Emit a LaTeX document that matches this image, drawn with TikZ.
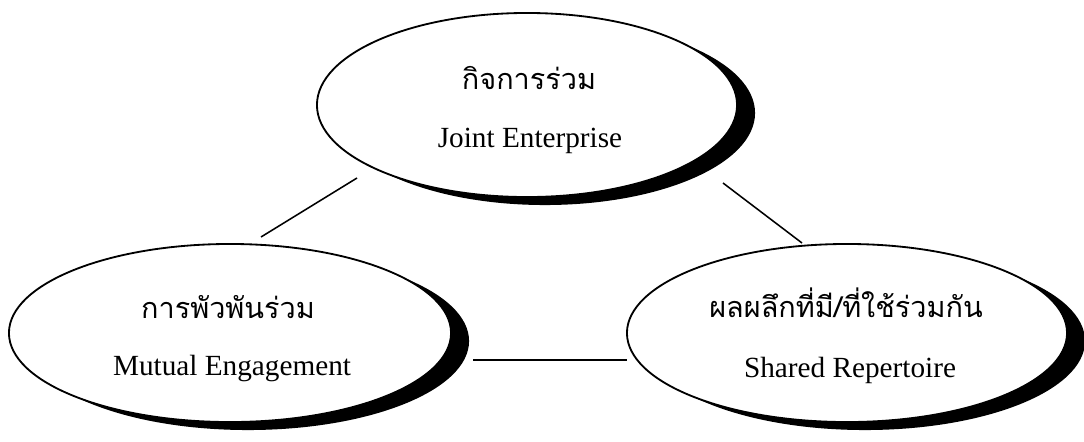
\documentclass[tikz,border=0pt]{standalone}
\usepackage{fontspec}
\setmainfont{Liberation Serif}
\newfontfamily\thaifont[Script=Thai]{Loma}
\usetikzlibrary{shapes.geometric,shadows}
\begin{document}
\begin{tikzpicture}[x=0.025cm,y=-0.025cm,
  bubble/.style={ellipse, draw=black, line width=1.3pt, fill=white, inner sep=0pt,
    drop shadow={shadow xshift=0.45cm, shadow yshift=-0.2cm, opacity=1, fill=black}},
  th/.style={font=\thaifont\fontsize{20.5}{22}\selectfont, anchor=base, inner sep=0pt},
  en/.style={font=\fontsize{20.8}{24}\selectfont, anchor=base, inner sep=0pt},
  link/.style={line width=1.1pt}]
\useasboundingbox (0,0) rectangle (1084,441);
\node[bubble, minimum width=10.5cm, minimum height=4.6cm] (top) at (527,105) {};
\node[bubble, minimum width=11.05cm, minimum height=4.45cm] (left) at (230,333) {};
\node[bubble, minimum width=11cm, minimum height=4.45cm] (right) at (847,333) {};
\node[th] (topth) at ([shift={(2,-16)}]top.center) {กิจการร่วม};
\node[en] (topen) at ([shift={(3,42)}]top.center) {Joint Enterprise};
\node[th] (leftth) at ([shift={(-2,-15)}]left.center) {การพัวพันร่วม};
\node[en] (leften) at ([shift={(2,42)}]left.center) {Mutual Engagement};
\node[th] (rightth) at ([shift={(-1,-16)}]right.center) {ผลผลึกที่มี/ที่ใช้ร่วมกัน};
\node[en] (righten) at ([shift={(3,44)}]right.center) {Shared Repertoire};
\draw[link] ([shift={(31,-96)}]left.center) -- ([shift={(-170,73)}]top.center);
\draw[link] ([shift={(196,78)}]top.center) -- ([shift={(-45,-90)}]right.center);
\draw[link] ([shift={(243,27)}]left.center) -- ([shift={(-220,27)}]right.center);
\end{tikzpicture}
\end{document}
